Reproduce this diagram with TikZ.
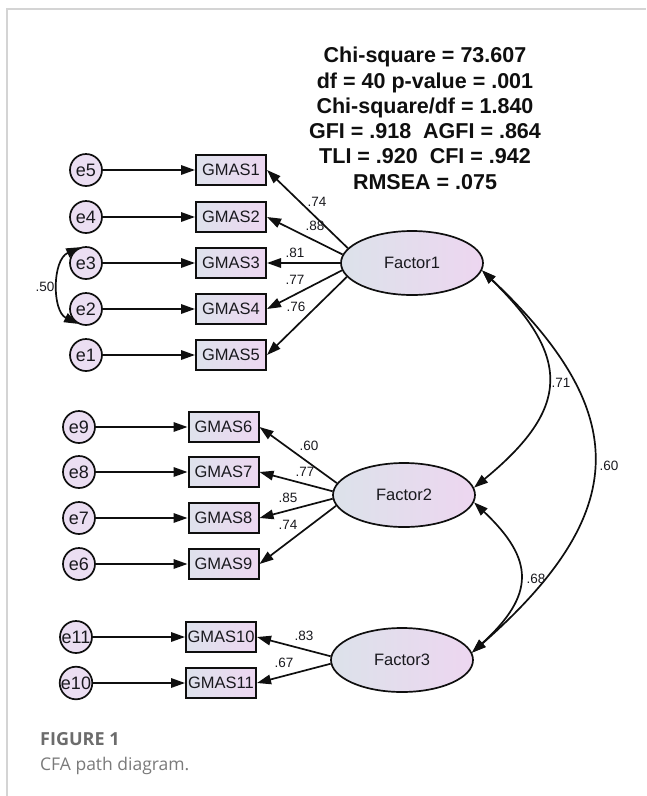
\documentclass[tikz,border=0pt]{standalone}
\usepackage{fontspec}
\setmainfont{Liberation Sans}
\newfontfamily\capfont{Open Sans}
\usetikzlibrary{arrows.meta,shapes.geometric}
\definecolor{boxl}{RGB}{222,226,236}
\definecolor{boxr}{RGB}{237,215,241}
\definecolor{errfill}{RGB}{235,222,242}
\definecolor{elll}{RGB}{220,226,234}
\definecolor{ellr}{RGB}{237,214,240}
\definecolor{ink}{RGB}{15,15,15}
\definecolor{txt}{RGB}{25,25,30}
\definecolor{framecol}{RGB}{212,212,212}
\definecolor{capbold}{RGB}{108,108,108}
\definecolor{capreg}{RGB}{122,122,122}
\begin{document}
\begin{tikzpicture}[x=1pt,y=-1pt,
  arr/.style={draw=ink, line width=1.7pt, -{Triangle[length=14pt,width=9.5pt]}},
  biarr/.style={draw=ink, line width=1.7pt, {Triangle[length=14pt,width=9.5pt]}-{Triangle[length=14pt,width=9.5pt]}},
  err/.style={circle, draw=ink, line width=1.7pt, fill=errfill, minimum size=32pt, inner sep=0pt, text=txt, font=\fontsize{18}{18}\selectfont},
  obs/.style={rectangle, draw=ink, line width=2pt, left color=boxl, right color=boxr, minimum width=70pt, minimum height=30pt, inner sep=0pt, text=txt, font=\fontsize{16.5}{16.5}\selectfont},
  lat/.style={ellipse, draw=ink, line width=1.7pt, left color=elll, right color=ellr, minimum width=142pt, minimum height=64pt, inner sep=0pt, text=txt, font=\fontsize{16.5}{16.5}\selectfont},
  lbl/.style={inner sep=0pt, text=txt, font=\fontsize{13.5}{13.5}\selectfont},
  stat/.style={inner sep=0pt, anchor=base, text=ink, font=\bfseries\fontsize{21.5}{21.5}\selectfont}
]
\useasboundingbox (0,0) rectangle (646,796);
\fill[white] (0,0) rectangle (646,796);
\draw[framecol, line width=1.2pt] (7,796) -- (7,9) -- (646,9);

% fit statistics
\node[stat] (s1) at (425,62.7) {Chi-square = 73.607};
\node[stat] (s2) at (425,88) {df = 40 p-value = .001};
\node[stat] (s3) at (425,113.3) {Chi-square/df = 1.840};
\node[stat] (s4) at (425,138.6) {GFI = .918\ \ AGFI = .864};
\node[stat] (s5) at (425,163.9) {TLI = .920\ \ CFI = .942};
\node[stat] (s6) at (425,189.2) {RMSEA = .075};

% errors
\node[err] (e5) at (86,170) {e5};
\node[err] (e4) at (86,217) {e4};
\node[err] (e3) at (86,263) {e3};
\node[err] (e2) at (86,309) {e2};
\node[err] (e1) at (86,355) {e1};
\node[err] (e9) at (79,427) {e9};
\node[err] (e8) at (79,472) {e8};
\node[err] (e7) at (79,518) {e7};
\node[err] (e6) at (79,564) {e6};
\node[err] (e11) at (76,637) {e11};
\node[err] (e10) at (76,683) {e10};

% observed
\node[obs] (G1) at (231,170) {GMAS1};
\node[obs] (G2) at (231,217) {GMAS2};
\node[obs] (G3) at (231,263) {GMAS3};
\node[obs] (G4) at (231,309) {GMAS4};
\node[obs] (G5) at (231,355) {GMAS5};
\node[obs] (G6) at (223.5,427) {GMAS6};
\node[obs] (G7) at (223.5,472) {GMAS7};
\node[obs] (G8) at (223.5,518) {GMAS8};
\node[obs] (G9) at (223.5,564) {GMAS9};
\node[obs] (G10) at (221,637) {GMAS10};
\node[obs] (G11) at (221,683) {GMAS11};

% latent
\node[lat] (F1) at (412,263) {Factor1};
\node[lat] (F2) at (404,495) {Factor2};
\node[lat] (F3) at (402,660) {Factor3};

% error paths
\foreach \e/\g in {e5/G1,e4/G2,e3/G3,e2/G4,e1/G5,e9/G6,e8/G7,e7/G8,e6/G9,e11/G10,e10/G11}
  \draw[arr] (\e) -- (\g);

% loadings
\draw[arr] (F1.167) -- (G1.east);
\draw[arr] (F1.173.5) -- (G2.east);
\draw[arr] (F1.180) -- (G3.east);
\draw[arr] (F1.186.5) -- (G4.east);
\draw[arr] (F1.192) -- (G5.east);
\draw[arr] (F2.170) -- (G6.east);
\draw[arr] (F2.177) -- (G7.east);
\draw[arr] (F2.183) -- (G8.east);
\draw[arr] (F2.189) -- (G9.east);
\draw[arr] (F3.177) -- (G10.east);
\draw[arr] (F3.183) -- (G11.east);

\node[lbl] (l1) at (317,202) {.74};
\node[lbl] (l2) at (315,226) {.88};
\node[lbl] (l3) at (295,253) {.81};
\node[lbl] (l4) at (295,280) {.77};
\node[lbl] (l5) at (296,307) {.76};
\node[lbl] (l6) at (309,446) {.60};
\node[lbl] (l7) at (305,472) {.77};
\node[lbl] (l8) at (288,498) {.85};
\node[lbl] (l9) at (288,525) {.74};
\node[lbl] (l10) at (304,636) {.83};
\node[lbl] (l11) at (284,663) {.67};

% covariances
\draw[biarr] (e3.110) .. controls (52,260) and (52,311) .. (e2.242);
\node[lbl] (c0) at (45,287) {.50};
\draw[biarr] (F1.-6) .. controls (571,357) and (571,408) .. (F2.6);
\node[lbl] (c1) at (561,383) {.71};
\draw[biarr] (F1.-6) .. controls (632,412) and (632,512) .. (F3.6);
\node[lbl] (c2) at (609,466) {.60};
\draw[biarr] (F2.-6) .. controls (535,560) and (535,595) .. (F3.6);
\node[lbl] (c3) at (536,579) {.68};

% caption
\node[anchor=base west, inner sep=0pt, text=capbold, font=\capfont\bfseries\fontsize{18}{18}\selectfont] (cap1) at (40,745.5) {FIGURE 1};
\node[anchor=base west, inner sep=0pt, text=capreg, font=\capfont\fontsize{17.5}{17.5}\selectfont] (cap2) at (40,770) {CFA path diagram.};
\end{tikzpicture}
\end{document}
